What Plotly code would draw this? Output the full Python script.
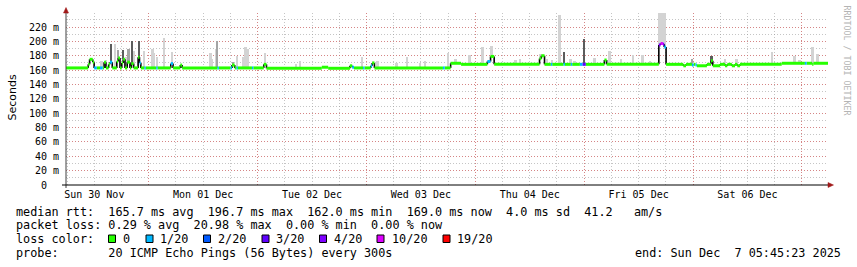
import pandas as pd
import plotly.graph_objects as go

START = pd.Timestamp("2025-11-30 05:45:23")
END = pd.Timestamp("2025-12-07 05:45:23")

# ---- median rtt (ms): breakpoints in hours after START, value, lost pings (of 20)
med_h = [0.0, 4.9, 5.2, 5.9, 6.2, 6.8, 7.5, 8.1, 8.4, 8.8, 9.4, 9.7, 10.2, 11.2, 11.5, 11.9,
         12.3, 12.6, 13.0, 13.5, 14.1, 14.4, 14.9, 15.9, 16.2, 16.5, 17.3, 17.6, 19.9, 20.2,
         23.1, 23.6, 25.2, 25.6, 33.4, 33.7, 36.3, 36.6, 37.2, 37.6, 37.9, 41.0, 41.3, 43.6,
         44.2, 56.4, 57.8, 62.6, 63.1, 63.5, 65.5, 65.8, 67.2, 67.5, 68.0, 83.1, 83.5, 84.8,
         87.1, 92.9, 93.6, 94.4, 104.4, 104.8, 105.5, 106.9, 107.2, 109.7, 110.0, 111.3, 111.6,
         113.3, 113.9, 114.6, 118.7, 119.2, 130.7, 131.1, 131.6, 131.9, 132.3, 136.1, 136.7,
         138.0, 138.4, 138.8, 139.1, 141.3, 142.2, 142.6, 144.2, 145.3, 145.8, 146.8, 147.5,
         148.0, 148.6, 157.8, 162.9, 163.3, 164.5, 164.8]
med_v = [163, 168, 175, 171, 163, 163, 163, 163, 171, 163, 168, 171, 163, 172, 177, 163,
         170, 175, 163, 171, 163, 169, 163, 178, 170, 163, 163, 163, 163, 163,
         169, 163, 167, 163, 163, 163, 163, 167, 163, 163, 163, 163, 163, 168,
         162.5, 164, 162.5, 166, 164, 163, 163, 163, 166, 170, 163, 163, 163, 169.5,
         168, 172, 179, 168, 176, 180, 168, 168, 168, 168, 168, 168, 168,
         168, 168, 168, 174, 168, 195, 197, 196, 192, 168, 166, 168,
         167, 168, 167, 166, 168, 173, 166, 168, 166, 168, 166, 168,
         166, 168, 169.5, 169.5, 169.5, 168, 169.5]
med_loss = [0, 0, 0, 0, 1, 0, 1, 0, 0, 0, 0, 1, 0, 0, 0, 0,
            0, 0, 0, 0, 0, 0, 0, 0, 1, 0, 1, 0, 1, 0,
            1, 0, 0, 0, 1, 0, 1, 0, 0, 1, 0, 1, 0, 0,
            0, 0, 0, 0, 1, 0, 1, 0, 1, 0, 0, 1, 0, 0,
            0, 1, 0, 0, 0, 0, 0, 1, 0, 1, 0, 1, 0,
            1, 3, 0, 0, 0, 4, 10, 4, 1, 0, 0, 0,
            1, 0, 1, 0, 0, 0, 0, 0, 0, 0, 0, 0,
            0, 0, 0, 1, 0, 0, 0]

# ---- smoke (ping spread): hours after START, top value (ms), shade 0 light / 1 medium / 2 dark
smoke_h = [7.9, 8.9, 10.0, 10.8, 11.5, 12.6, 13.3, 13.8, 14.6, 15.0, 16.2, 17.3, 19.1, 19.4,
           20.1, 21.6, 23.4, 25.4, 31.9, 32.2, 33.1, 33.3, 36.9, 37.7, 39.2, 39.6, 40.2, 43.9,
           50.7, 51.7, 65.3, 68.7, 72.9, 75.2, 78.1, 79.2, 84.3, 85.9, 89.0, 91.9, 93.9, 99.2,
           100.1, 104.7, 106.1, 107.2, 108.9, 109.8, 111.3, 112.2, 114.3, 116.6, 119.9, 122.4,
           125.0, 127.2, 128.8, 130.8, 131.2, 131.6, 132.0, 138.1, 142.4, 145.3, 147.9, 155.7,
           160.7, 161.8, 164.6, 165.7]
smoke_hi = [173, 174, 196, 196, 188, 188, 178, 189, 201, 186, 201, 186, 189, 184,
            178, 204, 185, 168, 184, 176, 190, 201, 171, 180, 178, 192, 190, 184,
            168, 173, 178, 172, 170, 178, 170, 172, 184, 176, 181, 192, 194, 174,
            176, 183, 175, 174, 237, 185, 176, 172, 203, 177, 187, 175,
            181, 181, 172, 250, 250, 250, 250, 176, 180, 176, 175, 185,
            179, 174, 192, 182]
smoke_shade = [0, 0, 2, 0, 1, 2, 0, 1, 2, 0, 2, 0, 0, 0,
               0, 0, 0, 0, 0, 0, 0, 1, 1, 0, 0, 0, 0, 0,
               0, 0, 0, 0, 0, 0, 0, 0, 0, 0, 0, 0, 0, 0,
               0, 0, 0, 0, 0, 2, 0, 0, 2, 0, 0, 0,
               0, 0, 0, 0, 0, 0, 0, 1, 2, 0, 0, 0,
               0, 0, 0, 0]

day_ticks = ["2025-11-30 12:00", "2025-12-01 12:00", "2025-12-02 12:00", "2025-12-03 12:00",
             "2025-12-04 12:00", "2025-12-05 12:00", "2025-12-06 12:00"]
day_labels = ["Sun 30 Nov", "Mon 01 Dec", "Tue 02 Dec", "Wed 03 Dec", "Thu 04 Dec",
              "Fri 05 Dec", "Sat 06 Dec"]
midnights = ["2025-12-01", "2025-12-02", "2025-12-03", "2025-12-04", "2025-12-05",
             "2025-12-06", "2025-12-07"]
y_ticks = [0, 20, 40, 60, 80, 100, 120, 140, 160, 180, 200, 220]
y_labels = ["0\u00a0\u00a0", "20 m", "40 m", "60 m", "80 m", "100 m", "120 m", "140 m",
            "160 m", "180 m", "200 m", "220 m"]

loss_keys = [0, 1, 2, 3, 4, 10, 19]
loss_names = ["0", "1/20", "2/20", "3/20", "4/20", "10/20", "19/20"]
loss_colors = ["#26ff00", "#00b8ff", "#0059ff", "#5e00ff", "#7e00ff", "#dd00ff", "#ff0000"]

stat_lines = [
    "median rtt:  165.7 ms avg  196.7 ms max  162.0 ms min  169.0 ms now  4.0 ms sd  41.2   am/s",
    "packet loss: 0.29 % avg  20.98 % max  0.00 % min  0.00 % now",
]
probe_line = "probe:       20 ICMP Echo Pings (56 Bytes) every 300s"
end_line = "end: Sun Dec  7 05:45:23 2025"

# ---------------- layout geometry (pixels) ----------------
W, H = 857, 267
L, R, T, B = 66, 29, 13, 82
PW, PH = W - L - R, H - T - B


def px(x):
    return (x - L) / PW


def py(y):
    return (H - B - y) / PH


def nb(s):
    return s.replace(" ", "\u00a0")


MONO = "DejaVu Sans Mono"
shade_col = ["#d3d3d3", "#a4a4a4", "#5c5c5c"]
color_of = dict(zip(loss_keys, loss_colors))

fig = go.Figure()

t_med = [START + pd.Timedelta(hours=h) for h in med_h] + [END]


def median_at(h):
    idx = 0
    for i, mh in enumerate(med_h):
        if mh <= h:
            idx = i
    return med_v[idx]


# smoke bars
s_x = [START + pd.Timedelta(hours=h) for h in smoke_h]
s_base = [median_at(h) for h in smoke_h]
s_len = [hi - b for hi, b in zip(smoke_hi, s_base)]
fig.add_trace(go.Bar(x=s_x, y=s_len, base=s_base, width=0.42 * 3600 * 1000,
                     marker=dict(color=[shade_col[s] for s in smoke_shade], line=dict(width=0)),
                     showlegend=False, hoverinfo="skip"))

# black vertical connectors of the median line
vx, vy = [], []
for i in range(1, len(med_h)):
    if abs(med_v[i] - med_v[i - 1]) >= 2:
        vx += [t_med[i], t_med[i], None]
        vy += [med_v[i - 1], med_v[i], None]
fig.add_trace(go.Scatter(x=vx, y=vy, mode="lines", line=dict(color="black", width=1.6),
                         showlegend=False, hoverinfo="skip"))

# coloured horizontal median segments
for key in loss_keys:
    hx, hy = [], []
    for i in range(len(med_h)):
        if med_loss[i] == key:
            hx += [t_med[i], t_med[i + 1], None]
            hy += [med_v[i], med_v[i], None]
    if hx:
        fig.add_trace(go.Scatter(x=hx, y=hy, mode="lines",
                                 line=dict(color=color_of[key], width=3),
                                 showlegend=False, hoverinfo="skip"))

# dummy trace for the label axis
fig.add_trace(go.Scatter(x=[START, END], y=[None, None], xaxis="x2", mode="lines",
                         line=dict(color="rgba(0,0,0,0)"), showlegend=False, hoverinfo="skip"))

MAJ = "rgba(225,80,80,0.55)"
MIN = "rgba(150,150,150,0.55)"

fig.update_layout(
    width=W, height=H, margin=dict(l=L, r=R, t=T, b=B, pad=0),
    paper_bgcolor="white", plot_bgcolor="white", showlegend=False, bargap=0,
    xaxis=dict(type="date", range=[START, END], tickmode="array", tickvals=midnights,
               showticklabels=False, ticks="", showgrid=True, gridcolor=MAJ, gridwidth=1,
               griddash="1px,2px", zeroline=False, showline=False,
               minor=dict(dtick=6 * 3600 * 1000, tick0="2025-12-01", showgrid=True,
                          gridcolor=MIN, griddash="1px,2px", gridwidth=1)),
    xaxis2=dict(type="date", overlaying="x", anchor="y", side="bottom", range=[START, END],
                tickmode="array", tickvals=day_ticks, ticktext=day_labels, showgrid=False,
                zeroline=False, showline=False, ticks="", ticklabelstandoff=2,
                tickfont=dict(family=MONO, size=10, color="black")),
    yaxis=dict(range=[0, PH / 0.7182], tickmode="array", tickvals=y_ticks, ticktext=y_labels,
               ticks="", showgrid=True, gridcolor=MAJ, griddash="1px,2px", gridwidth=1,
               zeroline=False, showline=False, ticklabelstandoff=6,
               tickfont=dict(family=MONO, size=10, color="black"),
               minor=dict(dtick=10, tick0=0, showgrid=True, gridcolor=MIN,
                          griddash="1px,2px", gridwidth=1)),
)

shapes = []
# axes with arrows
shapes.append(dict(type="line", xref="paper", yref="paper", x0=px(66), x1=px(66),
                   y0=py(188), y1=py(12), line=dict(color="#404040", width=1)))
shapes.append(dict(type="path", xref="paper", yref="paper",
                   path=f"M {px(63.5)} {py(13)} L {px(66)} {py(7.5)} L {px(68.5)} {py(13)} Z",
                   fillcolor="#a01818", line=dict(color="#a01818", width=0.5)))
shapes.append(dict(type="line", xref="paper", yref="paper", x0=px(62), x1=px(829),
                   y0=py(185), y1=py(185), line=dict(color="black", width=1)))
shapes.append(dict(type="path", xref="paper", yref="paper",
                   path=f"M {px(828)} {py(182.5)} L {px(833.5)} {py(185)} L {px(828)} {py(187.5)} Z",
                   fillcolor="#a01818", line=dict(color="#a01818", width=0.5)))

ann = []
ann.append(dict(text="Seconds", x=px(11.5), y=py(98), xref="paper", yref="paper",
                xanchor="center", yanchor="middle", textangle=-90, showarrow=False,
                font=dict(family="DejaVu Sans", size=11, color="black")))
ann.append(dict(text=nb("RRDTOOL / TOBI OETIKER"), x=px(846.5), y=py(60), xref="paper",
                yref="paper", xanchor="center", yanchor="middle", textangle=90, showarrow=False,
                font=dict(family=MONO, size=8.3, color="#b4b4b4")))

LEG = dict(family=MONO, size=11.8, color="black")
line_y = [211.5, 225, 239, 252.5]
for s, yy in zip(stat_lines, line_y[:2]):
    ann.append(dict(text=nb(s), x=px(16), y=py(yy), xref="paper", yref="paper", xanchor="left",
                    yanchor="middle", showarrow=False, font=LEG, borderpad=0, borderwidth=0))
ann.append(dict(text=nb("loss color:"), x=px(16), y=py(line_y[2]), xref="paper", yref="paper",
                xanchor="left", yanchor="middle", showarrow=False, font=LEG, borderpad=0, borderwidth=0))
box_x = [108.5, 146, 203.5, 262, 319.5, 377, 443]
lab_x = [122.5, 159.5, 217.5, 276, 333.5, 392, 456.5]
for bx, lx, name, col in zip(box_x, lab_x, loss_names, loss_colors):
    shapes.append(dict(type="rect", xref="paper", yref="paper", x0=px(bx), x1=px(bx + 7),
                       y0=py(242.5), y1=py(235), fillcolor=col, line=dict(color="black", width=1)))
    ann.append(dict(text=nb(name), x=px(lx), y=py(line_y[2]), xref="paper", yref="paper",
                    xanchor="left", yanchor="middle", showarrow=False, font=LEG, borderpad=0, borderwidth=0))
ann.append(dict(text=nb(probe_line), x=px(16), y=py(line_y[3]), xref="paper", yref="paper",
                xanchor="left", yanchor="middle", showarrow=False, font=LEG, borderpad=0, borderwidth=0))
ann.append(dict(text=nb(end_line), x=px(841), y=py(line_y[3]), xref="paper", yref="paper",
                xanchor="right", yanchor="middle", showarrow=False, font=LEG, borderpad=0, borderwidth=0))

fig.update_layout(shapes=shapes, annotations=ann)
fig.write_html("out.html")
